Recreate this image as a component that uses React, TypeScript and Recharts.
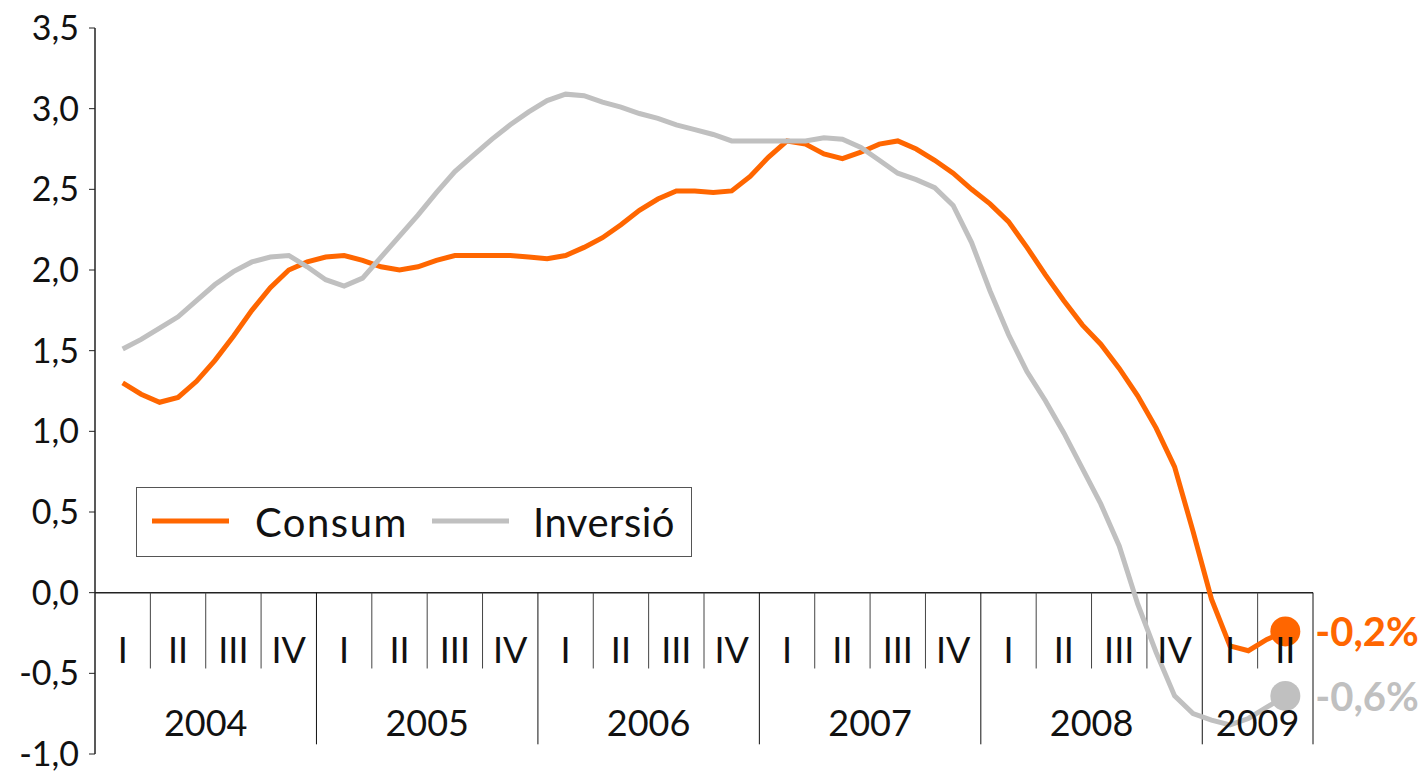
import { LineChart, Line, XAxis, YAxis, ReferenceLine } from "recharts";

// monthly values, Feb 2004 .. May 2009 (centred months of each quarter span)
const consum = [
  1.3, 1.23, 1.18, 1.21, 1.31, 1.44, 1.59, 1.75, 1.89, 2.0,
  2.05, 2.08, 2.09, 2.06, 2.02, 2.0, 2.02, 2.06, 2.09, 2.09,
  2.09, 2.09, 2.08, 2.07, 2.09, 2.14, 2.2, 2.28, 2.37, 2.44,
  2.49, 2.49, 2.48, 2.49, 2.58, 2.7, 2.8, 2.78, 2.72, 2.69,
  2.73, 2.78, 2.8, 2.75, 2.68, 2.6, 2.5, 2.41, 2.3, 2.14,
  1.97, 1.81, 1.66, 1.54, 1.39, 1.22, 1.02, 0.78, 0.38, -0.04,
  -0.33, -0.36, -0.29, -0.24,
];
const inversio = [
  1.51, 1.57, 1.64, 1.71, 1.81, 1.91, 1.99, 2.05, 2.08, 2.09,
  2.02, 1.94, 1.9, 1.95, 2.08, 2.21, 2.34, 2.48, 2.61, 2.71,
  2.81, 2.9, 2.98, 3.05, 3.09, 3.08, 3.04, 3.01, 2.97, 2.94,
  2.9, 2.87, 2.84, 2.8, 2.8, 2.8, 2.8, 2.8, 2.82, 2.81,
  2.76, 2.68, 2.6, 2.56, 2.51, 2.4, 2.17, 1.87, 1.6, 1.37,
  1.19, 0.99, 0.77, 0.55, 0.29, -0.07, -0.37, -0.64, -0.75, -0.79,
  -0.82, -0.78, -0.71, -0.64,
];
const quarterNames = ["I", "II", "III", "IV"];
const years = ["2004", "2005", "2006", "2007", "2008", "2009"];
const quartersPerYear = [4, 4, 4, 4, 4, 2];
const yTicks = [-1, -0.5, 0, 0.5, 1, 1.5, 2, 2.5, 3, 3.5];

const ORANGE = "#ff6600";
const GREY = "#c0c0c0";
const FONT = "Lato, 'Open Sans', sans-serif";

const data = consum.map((c, k) => ({ t: (k + 1.5) / 3, consum: c, inversio: inversio[k] }));
const totalQ = quartersPerYear.reduce((a, b) => a + b, 0);

const quarterCenters: number[] = [];
const quarterLabelOf: Record<string, string> = {};
const yearCenters: number[] = [];
const yearEdges: number[] = [];
const quarterEdges: number[] = [];
let start = 0;
quartersPerYear.forEach((n) => {
  for (let q = 0; q < n; q++) {
    const c = start + q + 0.5;
    quarterCenters.push(c);
    quarterLabelOf[String(c)] = quarterNames[q];
    if (q > 0) quarterEdges.push(start + q);
  }
  yearCenters.push(start + n / 2);
  start += n;
  yearEdges.push(start);
});

const fmt = (v: number) => v.toFixed(1).replace(".", ",");

const renderXTick = (props: any) => {
  const { x, payload, index } = props;
  const v = payload.value;
  const yi = yearCenters.indexOf(v);
  if (yi >= 0) {
    return (
      <text key={`xt${index}`} x={x} y={736} textAnchor="middle" fontFamily={FONT} fontSize={36} fill="#111">
        {years[yi]}
      </text>
    );
  }
  return (
    <text key={`xt${index}`} x={x} y={663} textAnchor="middle" fontFamily={FONT} fontSize={36} fill="#111">
      {quarterLabelOf[String(v)]}
    </text>
  );
};

const endDot = (color: string) => (p: any) => {
  if (p.index !== data.length - 1) return <g key={`d${p.index}`} />;
  const v = Math.round(p.value * 10) / 10;
  return (
    <g key={`d${p.index}`}>
      <circle cx={p.cx} cy={p.cy} r={15} fill={color} />
      <text
        x={p.cx + 30}
        y={p.cy}
        dominantBaseline="central"
        fontFamily={FONT}
        fontWeight="bold"
        fontSize={40}
        fill={color}
      >
        {fmt(v) + "%"}
      </text>
    </g>
  );
};

export default function App() {
  return (
    <div style={{ position: "absolute", left: 0, top: 0, width: 1428, height: 775, background: "#fff" }}>
      <LineChart width={1428} height={775} data={data} margin={{ top: 28, right: 115, bottom: 1, left: 0 }}>
        <XAxis
          dataKey="t"
          type="number"
          domain={[0, totalQ]}
          ticks={[...quarterCenters, ...yearCenters]}
          interval={0}
          axisLine={false}
          tickLine={false}
          height={20}
          tick={renderXTick}
        />
        <YAxis
          type="number"
          domain={[-1, 3.5]}
          ticks={yTicks}
          interval={0}
          width={95}
          axisLine={{ stroke: "#222", strokeWidth: 1.5 }}
          tickLine={{ stroke: "#222" }}
          tickSize={6}
          tickMargin={10}
          tickFormatter={fmt}
          tick={{ fontFamily: FONT, fontSize: 34, fill: "#111" }}
        />
        <ReferenceLine y={0} stroke="#222" strokeWidth={1.5} />
        {quarterEdges.map((e) => (
          <ReferenceLine
            key={`q${e}`}
            segment={[{ x: e, y: 0 }, { x: e, y: -0.47 }]}
            stroke="#444"
            strokeWidth={1}
          />
        ))}
        {yearEdges.map((e) => (
          <ReferenceLine
            key={`y${e}`}
            segment={[{ x: e, y: 0 }, { x: e, y: -0.94 }]}
            stroke="#111"
            strokeWidth={1}
          />
        ))}
        <Line
          dataKey="consum"
          type="linear"
          stroke={ORANGE}
          strokeWidth={5}
          dot={endDot(ORANGE)}
          activeDot={false}
          isAnimationActive={false}
        />
        <Line
          dataKey="inversio"
          type="linear"
          stroke={GREY}
          strokeWidth={5}
          dot={endDot(GREY)}
          activeDot={false}
          isAnimationActive={false}
        />
      </LineChart>
      <div
        style={{
          position: "absolute",
          left: 136,
          top: 487,
          width: 556,
          height: 70,
          border: "1.5px solid #555",
          boxSizing: "border-box",
          background: "#fff",
        }}
      >
        <svg width={553} height={67} style={{ display: "block" }}>
          <line x1={15} x2={92} y1={33} y2={33} stroke={ORANGE} strokeWidth={5} />
          <text x={118} y={34} dominantBaseline="central" fontFamily={FONT} fontSize={40} letterSpacing={1.5} fill="#111">
            Consum
          </text>
          <line x1={295} x2={372} y1={33} y2={33} stroke={GREY} strokeWidth={5} />
          <text x={396} y={34} dominantBaseline="central" fontFamily={FONT} fontSize={40} letterSpacing={0.5} fill="#111">
            Inversió
          </text>
        </svg>
      </div>
    </div>
  );
}
